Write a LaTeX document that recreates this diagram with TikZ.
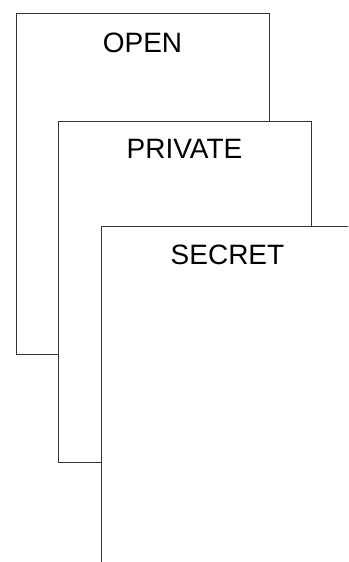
\documentclass[tikz,border=0pt]{standalone}
\usepackage{fontspec}
\setmainfont{Liberation Sans}
\usetikzlibrary{positioning}

\begin{document}
\begin{tikzpicture}[x=1pt,y=-1pt]
% three stacked access levels
\def\openbox{(16,13) rectangle (269,354)}
\def\privatebox{(58,121) rectangle (311,462)}
\def\secretbox{(101,226) rectangle (354,567)}

\useasboundingbox (0,0) rectangle (348,562);
\clip (0,0) rectangle (348,562);

\begin{scope}[draw=black!80, line width=1pt, fill=white]
    \filldraw \openbox;
    \filldraw \privatebox;
    \filldraw \secretbox;
\end{scope}

\node[anchor=base, font=\fontsize{28}{34}\selectfont] (open) at (142.5,52) {OPEN};
\node[anchor=base, font=\fontsize{28}{34}\selectfont] (private) at (184.5,158) {PRIVATE};
\node[anchor=base, font=\fontsize{28}{34}\selectfont] (secret) at (227.5,264) {SECRET};
\end{tikzpicture}
\end{document}
